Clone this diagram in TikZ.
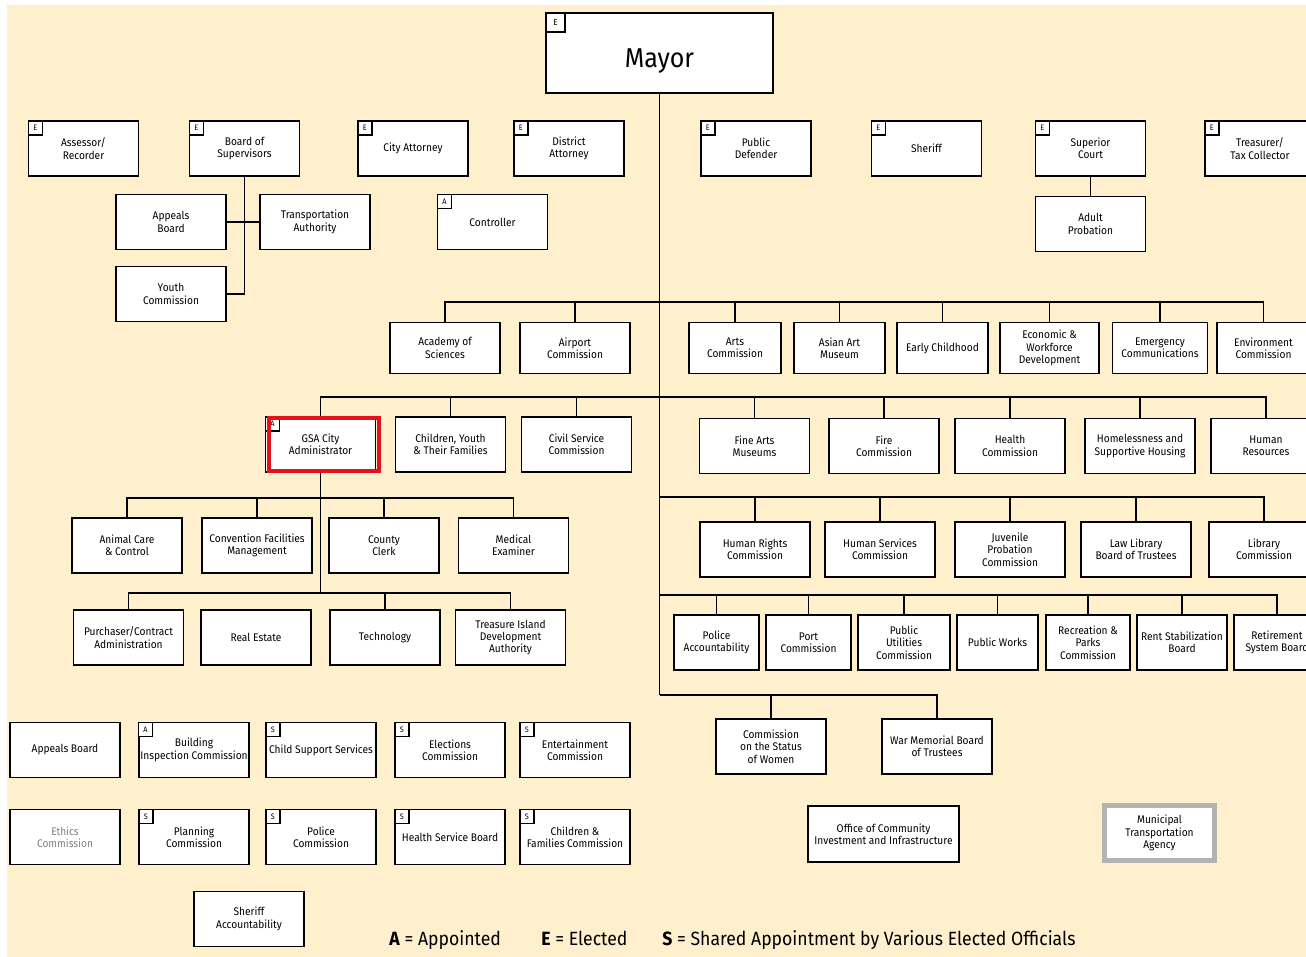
\documentclass[tikz,border=0pt]{standalone}
\usepackage{fontspec}
\setmainfont{Fira Sans}[FakeStretch=0.92]

\definecolor{paper}{HTML}{FEEFCD}
\definecolor{mtagrey}{HTML}{B3B3B3}
\definecolor{gsared}{HTML}{E3131B}

\tikzset{
    unit/.style={draw, fill=white, line width=1.1pt, minimum width=2.2cm, minimum height=1.1cm,
        inner sep=1pt, align=center, font=\fontsize{6.3}{7.1}\selectfont},
    bw/.style={minimum width=#1*0.02cm},
    bh/.style={minimum height=#1*0.02cm},
    tagbox/.style={draw, fill=white, line width=1pt, minimum size=0.28cm, inner sep=0pt,
        anchor=north west, font=\fontsize{4.5}{5}\selectfont},
    link/.style={line width=1pt},
    legend/.style={anchor=base west, inner sep=0pt, font=\fontsize{10.9}{12}\selectfont},
}
\newcommand{\tagon}[2]{\node[tagbox] (#1-tag) at (#1.north west) {#2};}

\begin{document}
\begin{tikzpicture}[x=0.02cm,y=-0.02cm]
\fill[white] (0,0) rectangle (1306,957);
\fill[paper] (7,5) rectangle (1306,957);
\useasboundingbox (0,0) rectangle (1306,957);

% mayor
\node[unit, bw=227, bh=80, text height=0.6cm, text depth=0cm, font=\fontsize{15.5}{18}\selectfont] (mayor) at (659.5,53) {Mayor};
\node[tagbox, minimum size=0.38cm, font=\fontsize{5}{6}\selectfont] (mayor-tag) at (mayor.north west) {E};

% elected offices
\node[unit] (assr) at (83.5,148.5) {Assessor/\\Recorder};
\node[unit] (bos) at (244.5,148.5) {Board of\\Supervisors};
\node[unit] (catty) at (413,148.5) {City Attorney};
\node[unit] (datty) at (569,148.5) {District\\Attorney};
\node[unit] (pdef) at (756,148.5) {Public\\Defender};
\node[unit] (sher) at (926.5,148.5) {Sheriff};
\node[unit] (supc) at (1090.5,148.5) {Superior\\Court};
\node[unit] (treas) at (1260,148.5) {Treasurer/\\Tax Collector};
\foreach \n in {assr,bos,catty,datty,pdef,sher,supc,treas} {\tagon{\n}{E}}

\node[unit] (appb) at (171,222) {Appeals\\Board};
\node[unit] (trans) at (315,222) {Transportation\\Authority};
\node[unit] (youth) at (171,294) {Youth\\Commission};
\node[unit] (ctrl) at (492.5,222) {Controller};
\tagon{ctrl}{A}
\node[unit] (adpr) at (1090.5,224) {Adult\\Probation};

% row 2
\node[unit, bh=51] (acad) at (445,348) {Academy of\\Sciences};
\node[unit, bh=51] (airp) at (575,348) {Airport\\Commission};
\node[unit, bh=51, bw=92] (arts) at (735,348) {Arts\\Commission};
\node[unit, bh=51, bw=91] (asian) at (839.5,348) {Asian Art\\Museum};
\node[unit, bh=51, bw=91] (early) at (942.5,348) {Early Childhood};
\node[unit, bh=51, bw=99] (econ) at (1049.5,348) {Economic \&\\Workforce\\Development};
\node[unit, bh=51, bw=95] (emer) at (1160,348) {Emergency\\Communications};
\node[unit, bh=51, bw=93] (envc) at (1263.5,348) {Environment\\Commission};

% row 3
\node[unit] (gsa) at (320.5,444.5) {GSA City\\Administrator};
\tagon{gsa}{A}
\draw[gsared, line width=2.3pt] ([shift={(4,2)}]gsa.north west) rectangle ([shift={(3,-2)}]gsa.south east);
\node[unit] (cyf) at (450.5,444.5) {Children, Youth\\\& Their Families};
\node[unit] (csc) at (576.5,444.5) {Civil Service\\Commission};
\node[unit] (fam) at (754.5,446) {Fine Arts\\Museums};
\node[unit] (fire) at (884,446) {Fire\\Commission};
\node[unit] (hlth) at (1010,446) {Health\\Commission};
\node[unit] (hsh) at (1140,446) {Homelessness and\\Supportive Housing};
\node[unit] (hr) at (1266,446) {Human\\Resources};

% under the city administrator
\node[unit] (anim) at (127,545.5) {Animal Care\\\& Control};
\node[unit] (conv) at (257,545.5) {Convention Facilities\\Management};
\node[unit] (clerk) at (384,545.5) {County\\Clerk};
\node[unit] (medx) at (513.5,545.5) {Medical\\Examiner};
\node[unit] (purch) at (128.5,637.5) {Purchaser/Contract\\Administration};
\node[unit] (rest) at (256,637.5) {Real Estate};
\node[unit] (tech) at (385,637.5) {Technology};
\node[unit] (tida) at (510.5,637.5) {Treasure Island\\Development\\Authority};

% row 4
\node[unit] (hrc) at (755,549.5) {Human Rights\\Commission};
\node[unit] (hsc) at (880,549.5) {Human Services\\Commission};
\node[unit] (juv) at (1010,549.5) {Juvenile\\Probation\\Commission};
\node[unit] (llib) at (1136,549.5) {Law Library\\Board of Trustees};
\node[unit] (libc) at (1264,549.5) {Library\\Commission};

% row 5
\node[unit, bw=85] (pacc) at (716.5,642.5) {Police\\Accountability};
\node[unit, bw=85] (port) at (808.5,642.5) {Port\\Commission};
\node[unit, bw=92] (puc) at (904,642.5) {Public\\Utilities\\Commission};
\node[unit, bw=81] (pw) at (997.5,642.5) {Public Works};
\node[unit, bw=84] (rec) at (1088,642.5) {Recreation \&\\Parks\\Commission};
\node[unit, bw=90] (rent) at (1182,642.5) {Rent Stabilization\\Board};
\node[unit, bw=86] (ret) at (1277,642.5) {Retirement\\System Board};

% row 6
\node[unit] (csw) at (771,746.5) {Commission\\on the Status\\of Women};
\node[unit] (wmem) at (937,746.5) {War Memorial Board\\of Trustees};

\node[unit, bw=151, bh=56] (ocii) at (883.5,834) {Office of Community\\Investment and Infrastructure};
\node[unit, draw=mtagrey, line width=2.8pt, bw=110, bh=55] (mta) at (1159.5,833) {Municipal\\Transportation\\Agency};

% boards and commissions with no line
\node[unit] (apbd) at (65,750) {Appeals Board};
\node[unit] (bic) at (194,750) {Building\\Inspection Commission};
\node[unit] (css) at (321,750) {Child Support Services};
\node[unit] (elec) at (450,750) {Elections\\Commission};
\node[unit] (ent) at (575,750) {Entertainment\\Commission};
\node[unit, text=black!50] (eth) at (65,837) {Ethics\\Commission};
\node[unit] (plan) at (194,837) {Planning\\Commission};
\node[unit] (polc) at (321,837) {Police\\Commission};
\node[unit] (hsb) at (450,837) {Health Service Board};
\node[unit] (cfc) at (575,837) {Children \&\\Families Commission};
\node[unit] (sacc) at (249,919) {Sheriff\\Accountability};
\tagon{bic}{A}
\foreach \n in {css,elec,ent,plan,polc,hsb,cfc} {\tagon{\n}{S}}

% legend
\node[legend] (legA) at (389,945) {\textbf{A} = Appointed};
\node[legend] (legE) at (541,945) {\textbf{E} = Elected};
\node[legend] (legS) at (662,945) {\textbf{S} = Shared Appointment by Various Elected Officials};

% lines
\coordinate (bus2) at (659.5,302);
\coordinate (bus3) at (659.5,397);
\coordinate (bus4) at (659.5,497);
\coordinate (bus5) at (659.5,595);
\coordinate (bus6) at (659.5,695);
\draw[link] (mayor.south) -- (bus6);
\foreach \n in {acad,airp,arts,asian,early,econ,emer,envc} \draw[link] (\n.north) |- (bus2);
\foreach \n in {gsa,cyf,csc,fam,fire,hlth,hsh,hr} \draw[link] (\n.north) |- (bus3);
\foreach \n in {hrc,hsc,juv,llib,libc} \draw[link] (\n.north) |- (bus4);
\foreach \n in {pacc,port,puc,pw,rec,rent,ret} \draw[link] (\n.north) |- (bus5);
\foreach \n in {csw,wmem} \draw[link] (\n.north) |- (bus6);

\coordinate (gsab1) at (320.5,498);
\coordinate (gsab2) at (320.5,593);
\draw[link] (gsa.south) -- (gsab2);
\foreach \n in {anim,conv,clerk,medx} \draw[link] (\n.north) |- (gsab1);
\foreach \n in {purch,tech,tida} \draw[link] (\n.north) |- (gsab2);

\coordinate (bosend) at (244.5,294);
\draw[link] (bos.south) -- (bosend);
\draw[link] (appb.east) -- (trans.west);
\draw[link] (youth.east) -- (bosend);
\draw[link] (supc.south) -- (adpr.north);
\end{tikzpicture}
\end{document}
